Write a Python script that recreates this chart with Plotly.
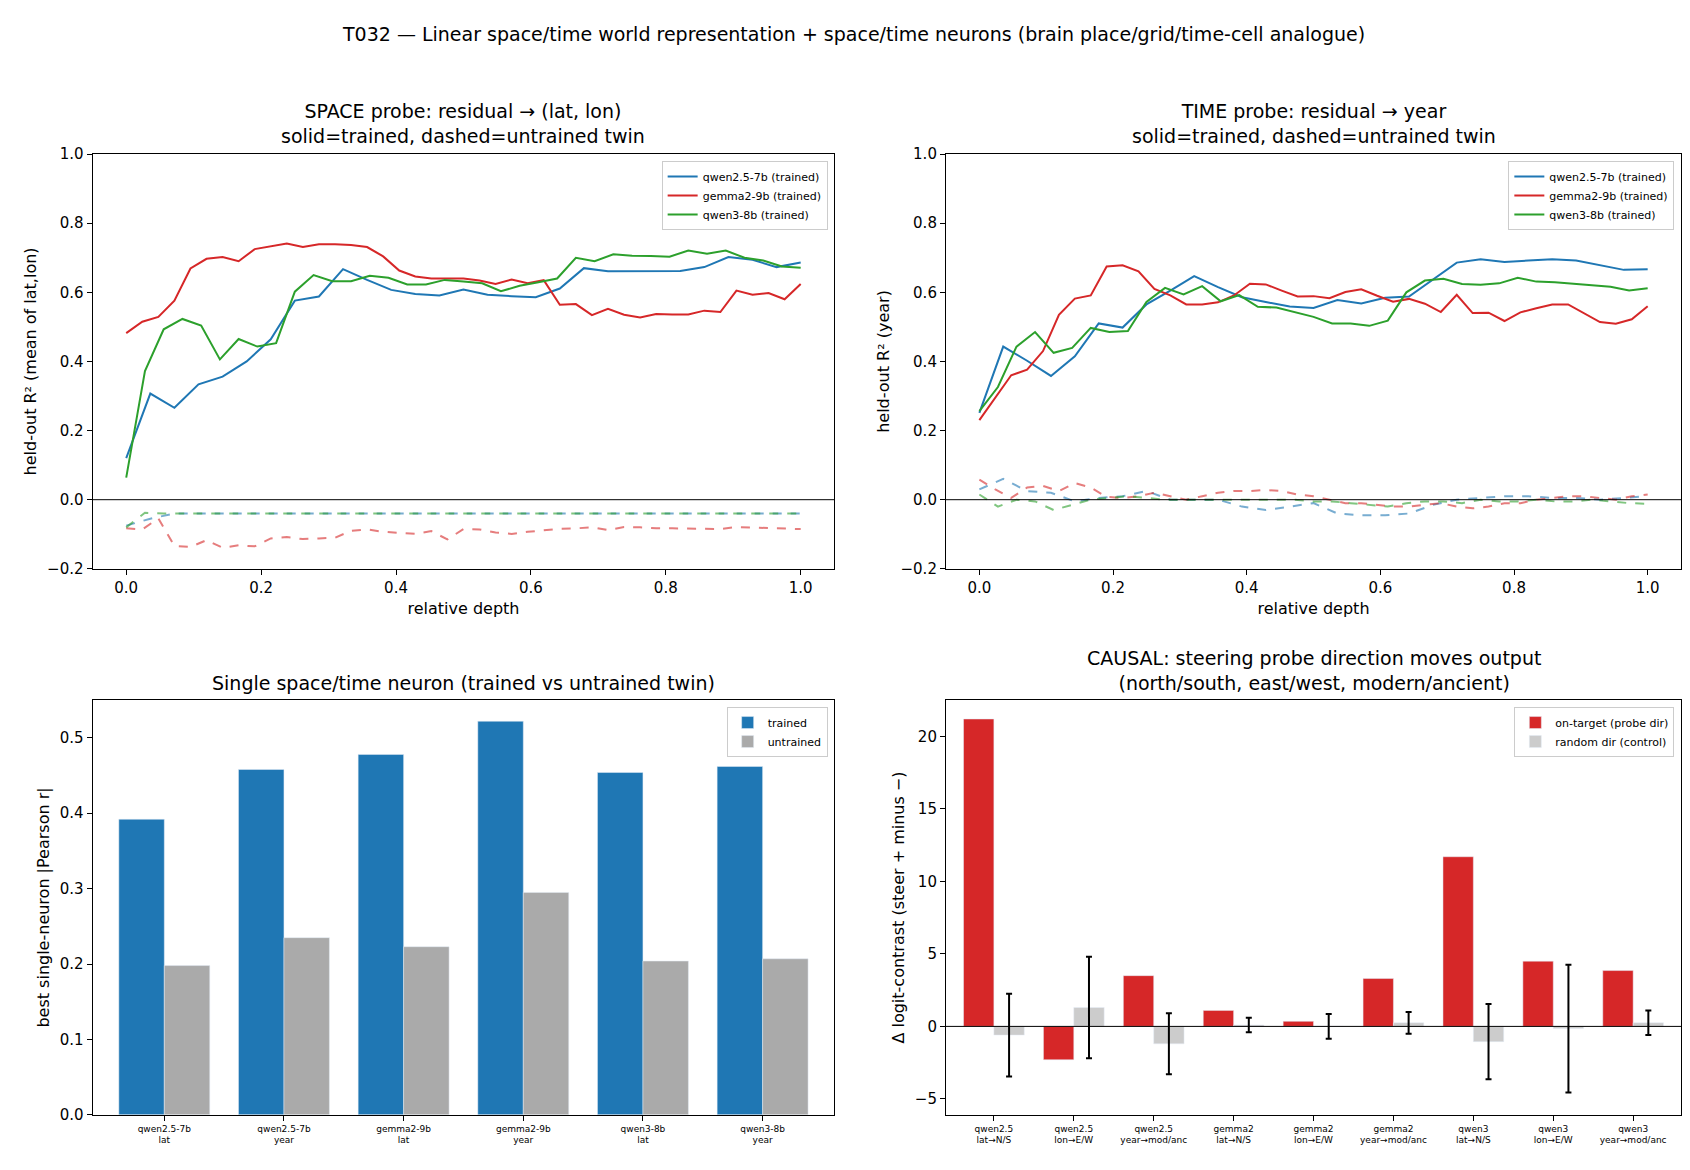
import plotly.graph_objects as go
import numpy as np

# ---- SPACE probe (trained) ----
space_qwen25 = [0.12,0.307,0.266,0.334,0.356,0.40,0.464,0.576,0.588,0.667,0.636,0.607,0.595,0.591,0.608,0.593,0.589,0.586,0.611,0.67,0.661,0.661,0.662,0.662,0.673,0.702,0.694,0.673,0.686]
space_gemma2 = [0.482,0.515,0.529,0.576,0.669,0.697,0.702,0.69,0.725,0.733,0.741,0.731,0.739,0.739,0.737,0.731,0.704,0.663,0.646,0.64,0.64,0.64,0.634,0.624,0.637,0.626,0.635,0.564,0.566,0.534,0.552,0.535,0.527,0.537,0.536,0.536,0.547,0.543,0.605,0.593,0.598,0.58,0.624]
space_qwen3 = [0.064,0.372,0.493,0.523,0.504,0.406,0.465,0.443,0.453,0.602,0.65,0.632,0.632,0.648,0.642,0.623,0.623,0.636,0.631,0.626,0.603,0.619,0.629,0.64,0.70,0.69,0.71,0.706,0.705,0.703,0.721,0.712,0.721,0.70,0.692,0.675,0.671]
# ---- SPACE probe (untrained) ----
space_qwen25_u = [-0.075,-0.055,-0.04] + [-0.04]*26
space_gemma2_u = [-0.083,-0.086,-0.054,-0.134,-0.137,-0.117,-0.139,-0.132,-0.135,-0.112,-0.108,-0.114,-0.112,-0.11,-0.09,-0.086,-0.093,-0.095,-0.099,-0.091,-0.115,-0.085,-0.086,-0.095,-0.099,-0.093,-0.088,-0.084,-0.083,-0.080,-0.088,-0.079,-0.080,-0.083,-0.083,-0.083,-0.085,-0.085,-0.079,-0.081,-0.081,-0.083,-0.085]
space_qwen3_u = [-0.08,-0.038] + [-0.04]*35
# ---- TIME probe (trained) ----
time_qwen25 = [0.251,0.443,0.402,0.358,0.415,0.51,0.498,0.565,0.605,0.647,0.615,0.586,0.572,0.559,0.555,0.578,0.568,0.584,0.588,0.636,0.686,0.696,0.688,0.692,0.696,0.692,0.678,0.665,0.667]
time_gemma2 = [0.23,0.295,0.36,0.376,0.43,0.535,0.582,0.591,0.675,0.678,0.661,0.61,0.591,0.565,0.565,0.571,0.591,0.625,0.623,0.605,0.588,0.589,0.583,0.601,0.609,0.59,0.573,0.581,0.567,0.543,0.593,0.54,0.541,0.517,0.542,0.554,0.565,0.565,0.54,0.514,0.509,0.522,0.56]
time_qwen3 = [0.256,0.326,0.443,0.485,0.425,0.439,0.497,0.485,0.488,0.572,0.613,0.594,0.618,0.574,0.592,0.558,0.556,0.542,0.529,0.51,0.51,0.503,0.518,0.6,0.634,0.639,0.624,0.622,0.626,0.642,0.631,0.629,0.624,0.619,0.616,0.605,0.612]
# ---- TIME probe (untrained) ----
time_qwen25_u = [0.03,0.06,0.025,0.02,-0.005,0.005,0.01,0.025,0.0,0.0,0.0,-0.02,-0.03,-0.02,-0.01,-0.04,-0.045,-0.045,-0.04,-0.015,0.0,0.005,0.01,0.01,0.005,0.005,0.0,0.005,0.01]
time_gemma2_u = [0.058,0.03,0.005,0.035,0.04,0.025,0.048,0.035,0.008,0.005,0.01,0.02,0.01,0.0,0.01,0.02,0.025,0.025,0.028,0.025,0.015,0.01,0.0,-0.01,-0.01,-0.015,-0.02,-0.02,-0.015,-0.01,-0.02,-0.025,-0.02,-0.01,-0.01,0.0,0.005,0.01,0.01,0.005,0.0,0.01,0.015]
time_qwen3_u = [0.015,-0.02,0.0,-0.005,-0.03,-0.015,0.0,0.005,0.01,0.005,0.0,0.0,0.0,0.0,0.0,0.0,0.0,0.0,-0.005,-0.005,-0.01,-0.015,-0.02,-0.01,-0.005,-0.005,-0.01,0.0,-0.005,-0.005,0.0,-0.005,-0.005,0.0,-0.005,-0.01,-0.012]

# ---- single neuron ----
neuron_labels = ["qwen2.5-7b<br>lat","qwen2.5-7b<br>year","gemma2-9b<br>lat","gemma2-9b<br>year","qwen3-8b<br>lat","qwen3-8b<br>year"]
neuron_trained = [0.392,0.458,0.478,0.522,0.454,0.462]
neuron_untrained = [0.198,0.235,0.223,0.295,0.204,0.207]

# ---- causal steering ----
causal_labels = ["qwen2.5<br>lat→N/S","qwen2.5<br>lon→E/W","qwen2.5<br>year→mod/anc","gemma2<br>lat→N/S","gemma2<br>lon→E/W","gemma2<br>year→mod/anc","qwen3<br>lat→N/S","qwen3<br>lon→E/W","qwen3<br>year→mod/anc"]
causal_on = [21.2,-2.3,3.5,1.1,0.35,3.3,11.7,4.5,3.85]
causal_rand = [-0.6,1.3,-1.2,0.1,0.0,0.25,-1.05,-0.15,0.25]
causal_rand_err = [2.85,3.5,2.1,0.5,0.85,0.75,2.6,4.4,0.85]

BLUE, RED, GREEN = "#1f77b4", "#d62728", "#2ca02c"
FONT = "DejaVu Sans"

fig = go.Figure()

def depth(n):
    return np.linspace(0, 1, n)

for xa, ya, sets, leg in [
    ("x", "y", [(space_qwen25, space_qwen25_u, BLUE, "qwen2.5-7b (trained)"),
                (space_gemma2, space_gemma2_u, RED, "gemma2-9b (trained)"),
                (space_qwen3, space_qwen3_u, GREEN, "qwen3-8b (trained)")], "legend"),
    ("x2", "y2", [(time_qwen25, time_qwen25_u, BLUE, "qwen2.5-7b (trained)"),
                  (time_gemma2, time_gemma2_u, RED, "gemma2-9b (trained)"),
                  (time_qwen3, time_qwen3_u, GREEN, "qwen3-8b (trained)")], "legend2")]:
    for tr, un, c, name in sets:
        fig.add_trace(go.Scatter(x=depth(len(tr)), y=tr, mode="lines", name=name,
                                 line=dict(color=c, width=2), xaxis=xa, yaxis=ya, legend=leg))
    for tr, un, c, name in sets:
        fig.add_trace(go.Scatter(x=depth(len(un)), y=un, mode="lines", showlegend=False,
                                 line=dict(color=c, width=2, dash="dash"), opacity=0.6,
                                 xaxis=xa, yaxis=ya))

fig.add_trace(go.Bar(x=neuron_labels, y=neuron_trained, name="trained", marker_color=BLUE,
                     xaxis="x3", yaxis="y3", legend="legend3"))
fig.add_trace(go.Bar(x=neuron_labels, y=neuron_untrained, name="untrained", marker_color="#aaaaaa",
                     xaxis="x3", yaxis="y3", legend="legend3"))

fig.add_trace(go.Bar(x=causal_labels, y=causal_on, name="on-target (probe dir)", marker_color=RED,
                     xaxis="x4", yaxis="y4", legend="legend4"))
fig.add_trace(go.Bar(x=causal_labels, y=causal_rand, name="random dir (control)", marker_color="#cccccc",
                     error_y=dict(type="data", array=causal_rand_err, color="black", thickness=2, width=3),
                     xaxis="x4", yaxis="y4", legend="legend4"))

ax = dict(showline=True, linecolor="black", linewidth=1, mirror=True, showgrid=False, zeroline=False,
          ticks="outside", ticklen=5, tickcolor="black", tickfont=dict(size=15, color="black"))
X1 = [0.050, 0.489]; X2 = [0.555, 0.990]
Y1 = [0.521, 0.881]; Y2 = [0.047, 0.407]

fig.update_layout(
    width=1690, height=1170, plot_bgcolor="white", paper_bgcolor="white",
    font=dict(family=FONT, color="black"), margin=dict(l=0, r=0, t=0, b=0),
    barmode="group", bargap=0.24, bargroupgap=0,
    xaxis=dict(ax, domain=X1, anchor="y", range=[-0.05, 1.05], tickvals=[0,0.2,0.4,0.6,0.8,1.0],
               ticktext=["0.0","0.2","0.4","0.6","0.8","1.0"],
               title=dict(text="relative depth", font=dict(size=16), standoff=6)),
    yaxis=dict(ax, domain=Y1, anchor="x", range=[-0.2, 1.0], tickvals=[-0.2,0,0.2,0.4,0.6,0.8,1.0],
               ticktext=["−0.2","0.0","0.2","0.4","0.6","0.8","1.0"],
               title=dict(text="held-out R² (mean of lat,lon)", font=dict(size=16), standoff=6)),
    xaxis2=dict(ax, domain=X2, anchor="y2", range=[-0.05, 1.05], tickvals=[0,0.2,0.4,0.6,0.8,1.0],
                ticktext=["0.0","0.2","0.4","0.6","0.8","1.0"],
                title=dict(text="relative depth", font=dict(size=16), standoff=6)),
    yaxis2=dict(ax, domain=Y1, anchor="x2", range=[-0.2, 1.0], tickvals=[-0.2,0,0.2,0.4,0.6,0.8,1.0],
                ticktext=["−0.2","0.0","0.2","0.4","0.6","0.8","1.0"],
                title=dict(text="held-out R² (year)", font=dict(size=16), standoff=6)),
    xaxis3=dict(ax, domain=X1, anchor="y3", tickfont=dict(size=9, color="black"), range=[-0.6, 5.6]),
    yaxis3=dict(ax, domain=Y2, anchor="x3", range=[0, 0.55], tickvals=[0,0.1,0.2,0.3,0.4,0.5],
                ticktext=["0.0","0.1","0.2","0.3","0.4","0.5"],
                title=dict(text="best single-neuron |Pearson r|", font=dict(size=16), standoff=6)),
    xaxis4=dict(ax, domain=X2, anchor="y4", tickfont=dict(size=9, color="black"), range=[-0.6, 8.6]),
    yaxis4=dict(ax, domain=Y2, anchor="x4", range=[-6.1, 22.5], tickvals=[-5,0,5,10,15,20],
                ticktext=["−5","0","5","10","15","20"],
                title=dict(text="Δ logit-contrast (steer + minus −)", font=dict(size=16), standoff=6)),
)

legstyle = dict(bgcolor="rgba(255,255,255,0.8)", bordercolor="#cccccc", borderwidth=1,
                font=dict(size=11), xanchor="right", yanchor="top", tracegroupgap=0)
fig.update_layout(
    legend=dict(legstyle, x=X1[1]-0.004, y=Y1[1]-0.006),
    legend2=dict(legstyle, x=X2[1]-0.004, y=Y1[1]-0.006),
    legend3=dict(legstyle, x=X1[1]-0.004, y=Y2[1]-0.006),
    legend4=dict(legstyle, x=X2[1]-0.004, y=Y2[1]-0.006),
)

for xr, ya in [("x domain", "y"), ("x2 domain", "y2"), ("x4 domain", "y4")]:
    fig.add_shape(type="line", xref=xr, yref=ya, x0=0, x1=1, y0=0, y1=0, line=dict(color="black", width=1))

def title(text, xc, ytop):
    fig.add_annotation(text=text, x=xc, y=ytop, xref="paper", yref="paper", showarrow=False,
                       xanchor="center", yanchor="bottom", font=dict(size=19))

title("SPACE probe: residual → (lat, lon)<br>solid=trained, dashed=untrained twin", sum(X1)/2, Y1[1]+0.004)
title("TIME probe: residual → year<br>solid=trained, dashed=untrained twin", sum(X2)/2, Y1[1]+0.004)
title("Single space/time neuron (trained vs untrained twin)", sum(X1)/2, Y2[1]+0.004)
title("CAUSAL: steering probe direction moves output<br>(north/south, east/west, modern/ancient)", sum(X2)/2, Y2[1]+0.004)
fig.add_annotation(text="T032 — Linear space/time world representation + space/time neurons (brain place/grid/time-cell analogue)",
                   x=0.5, y=0.985, xref="paper", yref="paper", showarrow=False, xanchor="center",
                   yanchor="middle", font=dict(size=19))

fig.write_html("out.html")
